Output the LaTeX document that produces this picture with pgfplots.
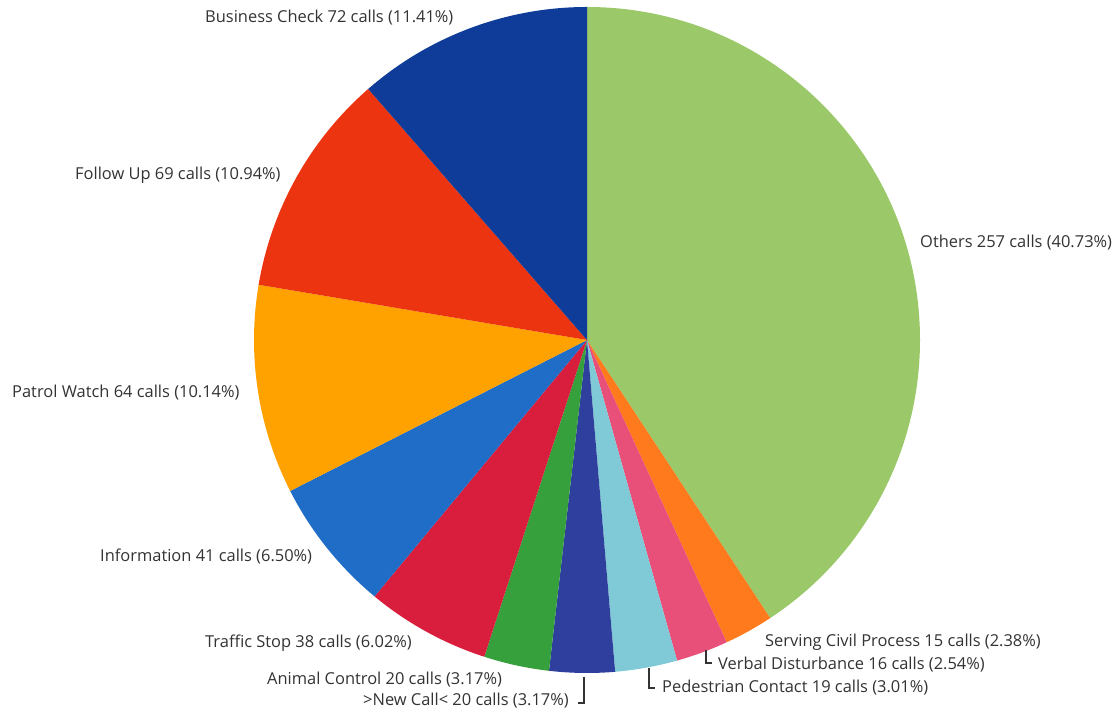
\documentclass[border=0pt]{standalone}
\usepackage{pgfplots}
\usepackage{pgfplotstable}
\pgfplotsset{compat=1.18}
\usepackage{fontspec}
\setmainfont{Open Sans}
\definecolor{c0}{HTML}{9BC96A}
\definecolor{c1}{HTML}{FF7A1C}
\definecolor{c2}{HTML}{E8507A}
\definecolor{c3}{HTML}{7FCAD6}
\definecolor{c4}{HTML}{2E3F9E}
\definecolor{c5}{HTML}{35A03C}
\definecolor{c6}{HTML}{D81E3C}
\definecolor{c7}{HTML}{1F6DC6}
\definecolor{c8}{HTML}{FFA200}
\definecolor{c9}{HTML}{EC3410}
\definecolor{c10}{HTML}{0E3C98}
\definecolor{txt}{HTML}{333333}
\pgfplotstableread{
calls
257
15
16
19
20
20
38
41
64
69
72
}\datatable
\begin{document}
\begin{tikzpicture}
\begin{axis}[hide axis, x=1bp, y=1bp, xmin=0, xmax=1120, ymin=0, ymax=719,
  scale only axis, clip=false]
\path (axis cs:0,0) rectangle (axis cs:1120,719);
\def\cum{0}
\pgfplotsforeachungrouped \i in {0,...,10}{%
  \pgfplotstablegetelem{\i}{calls}\of\datatable
  \pgfmathsetmacro\a{90-\cum/631*360}%
  \pgfmathsetmacro\newcum{\cum+\pgfplotsretval}%
  \pgfmathsetmacro\b{90-\newcum/631*360}%
  \edef\temp{\noexpand\fill[c\i] (axis cs:587,379) -- ++(\a:333bp) arc[start angle=\a, end angle=\b, radius=333bp] -- cycle;}%
  \temp
  \global\let\cum\newcum
}
\tikzset{lbl/.style={anchor=west, inner sep=0pt, text=txt, font=\fontsize{16.5}{18}\selectfont}}
\node[lbl] at (axis cs:205,701) {Business Check 72 calls (11.41\%)};
\node[lbl] at (axis cs:75,544) {Follow Up 69 calls (10.94\%)};
\node[lbl] at (axis cs:12,326) {Patrol Watch 64 calls (10.14\%)};
\node[lbl] at (axis cs:100,162) {Information 41 calls (6.50\%)};
\node[lbl] at (axis cs:205,76) {Traffic Stop 38 calls (6.02\%)};
\node[lbl] at (axis cs:267,39) {Animal Control 20 calls (3.17\%)};
\node[lbl] at (axis cs:363,18) {>New Call< 20 calls (3.17\%)};
\node[lbl] at (axis cs:920,476) {Others 257 calls (40.73\%)};
\node[lbl] at (axis cs:765,77) {Serving Civil Process 15 calls (2.38\%)};
\node[lbl] at (axis cs:718,54) {Verbal Disturbance 16 calls (2.54\%)};
\node[lbl] at (axis cs:662,31) {Pedestrian Contact 19 calls (3.01\%)};
\draw[txt, line width=1.3pt] (axis cs:584,42) -- (axis cs:584,16) -- (axis cs:578,16);
\draw[txt, line width=1.3pt] (axis cs:706,69) -- (axis cs:706,56) -- (axis cs:712,56);
\draw[txt, line width=1.3pt] (axis cs:649,51) -- (axis cs:649,31) -- (axis cs:655,31);
\end{axis}
\end{tikzpicture}
\end{document}
